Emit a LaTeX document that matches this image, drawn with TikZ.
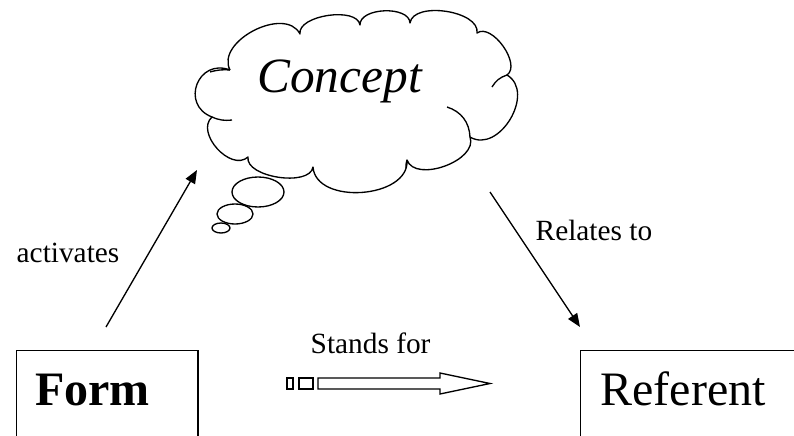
\documentclass[tikz,border=0pt]{standalone}
\usepackage{fontspec}
\setmainfont{Liberation Serif}
\usetikzlibrary{arrows.meta, calc}

\tikzset{
    big/.style={font=\fontsize{36}{40}\selectfont},
    small/.style={font=\fontsize{22}{26}\selectfont},
    termbox/.style={draw, line width=1pt, big, inner ysep=0pt, inner xsep=14pt,
        text height=41pt, text depth=40pt, align=left},
    thoughtline/.style={line width=1pt, line join=round},
    puff/.style={bend left=90, looseness=#1},
    puff/.default=1,
    bubble/.style={draw, line width=1pt, fill=white},
    link/.style={line width=1pt, -{Triangle[length=10pt,width=8pt]}}
}

\begin{document}
\begin{tikzpicture}[x=0.75pt, y=-0.75pt]
        \useasboundingbox (0,0) rectangle (794,436);
        \clip (0,0) rectangle (794,436);
        \coordinate (c1) at (230,70);
        \coordinate (c2) at (300,34);
        \coordinate (c3) at (360,25);
        \coordinate (c4) at (410,23);
        \coordinate (c5) at (477,33);
        \coordinate (c6) at (507,75);
        \coordinate (c7) at (470,137);
        \coordinate (c8) at (407,160);
        \coordinate (c9) at (313,167);
        \coordinate (c10) at (248,157);
        \coordinate (c11) at (212,117);
        \draw[thoughtline] (c1) to[puff=1.05] (c2) to[puff=0.8] (c3) to[puff=0.9] (c4)
            to[puff=0.85] (c5) to[puff=0.9] (c6) to[puff=1.2] (c7) to[puff=0.95] (c8)
            to[puff=1.05] (c9) to[puff=0.8] (c10) to[puff=1.1] (c11) to[puff=1.75] (c1);
        \draw[thoughtline] (447,107) to[bend left=35] (c7);
        \draw[thoughtline] (492,87) to[bend left=20] (c6);
        \draw[thoughtline] (c11) to[bend right=15] (232,120);
        \draw[thoughtline] (210,72) to[bend left=10] (c1);
        \draw[thoughtline] (c8) to[bend right=10] (406,168);
        \node[anchor=base] (concept) at (340,92) {\fontsize{37}{40}\selectfont\textit{Concept}};
        \draw[bubble] (258,192) ellipse (26 and 15);
        \draw[bubble] (235,214) ellipse (18 and 10);
        \draw[bubble] (221,228) ellipse (9 and 5);
        \node[termbox, text width=108pt, anchor=north west] (form) at (16,350) {\textbf{Form}};
        \node[termbox, inner xsep=15pt, text width=150pt, anchor=north west] (referent) at (580,350) {Referent};
        \node[small, anchor=base west] (activates) at (12,262) {activates};
        \node[small, anchor=base west] (relates) at (531,240) {Relates to};
        \node[small, anchor=base west] (stands) at (306,353) {Stands for};
        \coordinate (formtop) at (106,327);
        \coordinate (cloudleft) at (197,170);
        \coordinate (cloudright) at (490,192);
        \coordinate (referenttop) at (580,327);
        \draw[link] (formtop) -- (cloudleft);
        \draw[link] (cloudright) -- (referenttop);
        \coordinate (standsarrow) at (287,383.5);
        \foreach \x/\w in {0/6,12/14} {
            \draw[line width=1pt] ($(standsarrow)+(\x,-5.5)$) rectangle ($(standsarrow)+(\x+\w,5.5)$);
        }
        \draw[line width=1pt] ($(standsarrow)+(31,-5.5)$) -- ++(122,0) -- ++(0,-5) -- ++(50,10.5)
            -- ++(-50,10.5) -- ++(0,-5) -- ++(-122,0) -- cycle;
    \end{tikzpicture}
\end{document}
